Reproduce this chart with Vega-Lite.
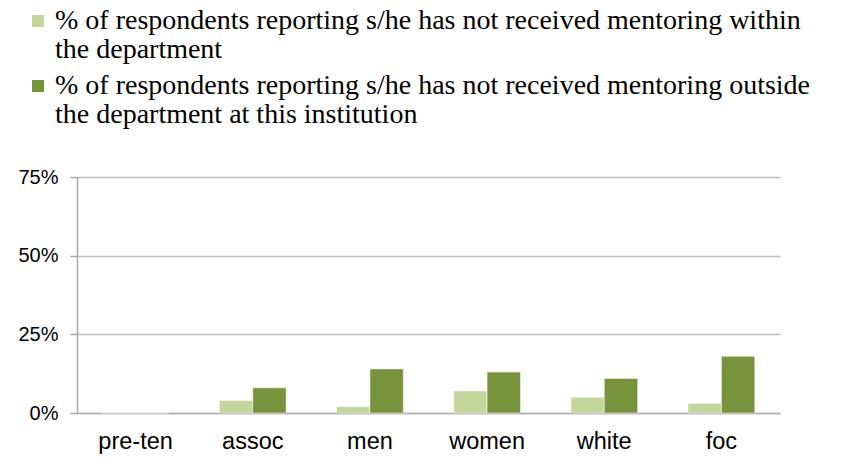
{
  "$schema": "https://vega.github.io/schema/vega-lite/v6.json",
  "width": 703,
  "height": 236,
  "autosize": "none",
  "padding": {"left": 77, "top": 177, "right": 80, "bottom": 45},
  "background": "white",
  "config": {
    "view": {"stroke": null},
    "style": {"guide-label": {"lineHeight": 29}}
  },
  "data": {
    "values": [
      {"group": "pre-ten", "series": "within", "value": 0},
      {"group": "pre-ten", "series": "outside", "value": 0},
      {"group": "assoc", "series": "within", "value": 0.04},
      {"group": "assoc", "series": "outside", "value": 0.08},
      {"group": "men", "series": "within", "value": 0.02},
      {"group": "men", "series": "outside", "value": 0.14},
      {"group": "women", "series": "within", "value": 0.07},
      {"group": "women", "series": "outside", "value": 0.13},
      {"group": "white", "series": "within", "value": 0.05},
      {"group": "white", "series": "outside", "value": 0.11},
      {"group": "foc", "series": "within", "value": 0.03},
      {"group": "foc", "series": "outside", "value": 0.18}
    ]
  },
  "mark": {"type": "bar", "stroke": "white", "strokeWidth": 0.5},
  "encoding": {
    "x": {
      "field": "group",
      "type": "nominal",
      "sort": ["pre-ten", "assoc", "men", "women", "white", "foc"],
      "scale": {"paddingInner": 0.43, "paddingOuter": 0.215},
      "axis": {
        "title": null,
        "labelAngle": 0,
        "ticks": false,
        "labelPadding": 16,
        "labelFont": "Liberation Sans",
        "labelFontSize": 23.5,
        "labelColor": "#000000",
        "domainColor": "#B0B0B0",
        "domainWidth": 1.5
      }
    },
    "xOffset": {"field": "series", "sort": ["within", "outside"]},
    "y": {
      "field": "value",
      "type": "quantitative",
      "scale": {"domain": [0, 0.75], "nice": false},
      "axis": {
        "title": null,
        "values": [0, 0.25, 0.5, 0.75],
        "format": ".0%",
        "grid": true,
        "gridColor": "#C0C0C0",
        "gridWidth": 1.5,
        "domainColor": "#A6A6A6",
        "domainWidth": 1.5,
        "tickColor": "#A6A6A6",
        "tickWidth": 1.5,
        "tickSize": 7,
        "labelPadding": 12,
        "labelFont": "Liberation Sans",
        "labelFontSize": 20,
        "labelColor": "#000000"
      }
    },
    "color": {
      "field": "series",
      "type": "nominal",
      "scale": {"domain": ["within", "outside"], "range": ["#C3D69B", "#77933C"]},
      "legend": {
        "orient": "none",
        "legendX": -53,
        "legendY": -170,
        "title": null,
        "padding": 0,
        "symbolType": "square",
        "symbolSize": 144,
        "symbolStrokeWidth": 0,
        "labelFont": "Liberation Serif",
        "labelFontSize": 28,
        "labelColor": "#000000",
        "labelLimit": 900,
        "labelOffset": 3,
        "rowPadding": 8,
        "labelExpr": "datum.value == 'within' ? ['% of respondents reporting s/he has not received mentoring within', 'the department'] : ['% of respondents reporting s/he has not received mentoring outside', 'the department at this institution']"
      }
    }
  }
}
